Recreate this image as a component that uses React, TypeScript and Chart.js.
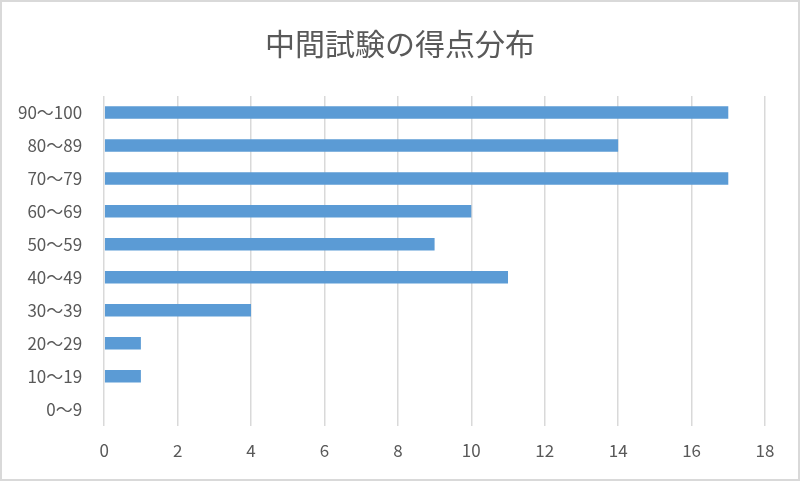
import { useEffect, useRef } from 'react';
import Chart from 'chart.js/auto';

const categories = ['90〜100', '80〜89', '70〜79', '60〜69', '50〜59', '40〜49', '30〜39', '20〜29', '10〜19', '0〜9'];
const counts = [17, 14, 17, 10, 9, 11, 4, 1, 1, 0];

const FONT = '"Noto Sans CJK JP", "Noto Sans", sans-serif';

// center the title on the whole canvas, not on the padded layout box
const centerTitle = {
  id: 'centerTitle',
  afterLayout(chart: any) {
    const t = chart.titleBlock;
    if (!t) return;
    t.left = 0;
    t.right = chart.width;
    t.width = chart.width;
  }
};

export default function App() {
  const canvasRef = useRef<HTMLCanvasElement>(null);
  const chartRef = useRef<Chart | null>(null);

  useEffect(() => {
    if (!canvasRef.current) return;
    if (chartRef.current) chartRef.current.destroy();

    chartRef.current = new Chart(canvasRef.current, {
      type: 'bar',
      data: {
        labels: categories,
        datasets: [
          {
            label: '人数',
            data: counts,
            backgroundColor: '#5b9bd5',
            categoryPercentage: 0.38,
            barPercentage: 1
          }
        ]
      },
      options: {
        indexAxis: 'y',
        animation: false,
        responsive: false,
        layout: { padding: { left: 2, right: 33, top: 0, bottom: 3 } },
        scales: {
          x: {
            min: 0,
            max: 18,
            ticks: { stepSize: 2, color: '#595959', font: { family: FONT, size: 17 }, padding: 15 },
            grid: { color: '#d9d9d9', lineWidth: 1.5, drawTicks: false },
            border: { display: false }
          },
          y: {
            ticks: { color: '#595959', font: { family: FONT, size: 17 }, padding: 14 },
            grid: { display: false },
            border: { display: false }
          }
        },
        plugins: {
          legend: { display: false },
          tooltip: { enabled: false },
          title: {
            display: true,
            text: '中間試験の得点分布',
            color: '#595959',
            font: { family: FONT, size: 30, weight: 'normal' },
            padding: { top: 24, bottom: 34 }
          }
        }
      },
      plugins: [centerTitle]
    });

    return () => {
      if (chartRef.current) {
        chartRef.current.destroy();
        chartRef.current = null;
      }
    };
  }, []);

  return (
    <div
      style={{
        position: 'fixed',
        left: 0,
        top: 0,
        width: 800,
        height: 481,
        boxSizing: 'border-box',
        border: '2px solid #d9d9d9',
        background: '#fff'
      }}
    >
      <canvas ref={canvasRef} width={796} height={477} />
    </div>
  );
}
